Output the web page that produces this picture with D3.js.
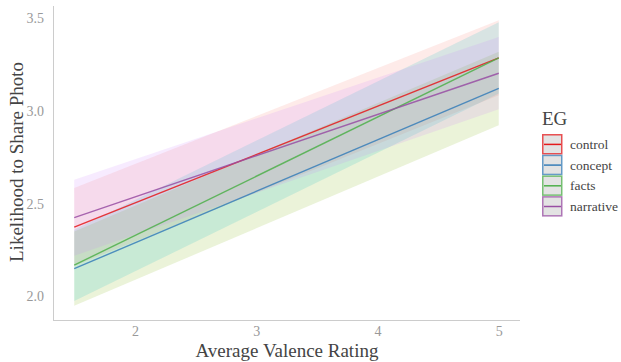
<!DOCTYPE html>
<html>
<head>
<meta charset="utf-8">
<script src="https://cdn.jsdelivr.net/npm/d3@7"></script>
<style>
  body { margin: 0; background: #fff; }
  svg text { font-family: "Liberation Serif", "DejaVu Serif", serif; }
</style>
</head>
<body>
<div id="chart"></div>
<script>
// groups and colours
const groups = ["control", "concept", "facts", "narrative"];
const lineColors = ["#E41A1C", "#377EB8", "#4DAF4A", "#984EA3"];
const fillColors = ["#F8766D", "#7CAE00", "#00BFC4", "#C77CFF"];

// predictions at the two ends of the valence range
const xs = [1.5, 5];
const fitControl = [2.374, 3.287], loControl = [2.165, 3.085], hiControl = [2.585, 3.49];
const fitConcept = [2.15, 3.123], loConcept = [1.95, 2.923], hiConcept = [2.35, 3.32];
const fitFacts = [2.169, 3.287], loFacts = [1.975, 3.095], hiFacts = [2.36, 3.48];
const fitNarrative = [2.425, 3.204], loNarrative = [2.22, 3.01], hiNarrative = [2.63, 3.40];

const xTicks = [2, 3, 4, 5];
const yTicks = [2.0, 2.5, 3.0, 3.5];

const series = [
    {fit: fitControl, lo: loControl, hi: hiControl},
    {fit: fitConcept, lo: loConcept, hi: hiConcept},
    {fit: fitFacts, lo: loFacts, hi: hiFacts},
    {fit: fitNarrative, lo: loNarrative, hi: hiNarrative}
].map((s, i) => ({
    name: groups[i],
    pts: xs.map((x, j) => ({x: x, fit: s.fit[j], lo: s.lo[j], hi: s.hi[j]}))
}));

const width = 621, height = 362;
const mLeft = 53, mRight = 520, mTop = 6, mBottom = 320;
const serif = "'Liberation Serif', 'DejaVu Serif', serif";

const svg = d3.select("#chart")
    .append("svg")
    .attr("width", width)
    .attr("height", height);

const x = d3.scaleLinear().domain([1.325, 5.175]).range([mLeft, mRight]);
const y = d3.scaleLinear().domain([1.873, 3.567]).range([mBottom, mTop]);

// ribbons first
const area = d3.area()
    .x(d => x(d.x))
    .y0(d => y(d.lo))
    .y1(d => y(d.hi));

svg.selectAll(".band")
    .data(series)
    .enter().append("path")
    .attr("class", "band")
    .attr("d", d => area(d.pts))
    .attr("fill", (d, i) => fillColors[i])
    .attr("fill-opacity", 0.15);

const line = d3.line()
    .x(d => x(d.x))
    .y(d => y(d.fit));

svg.selectAll(".fit")
    .data(series)
    .enter().append("path")
    .attr("class", "fit")
    .attr("d", d => line(d.pts))
    .attr("fill", "none")
    .attr("stroke", (d, i) => lineColors[i])
    .attr("stroke-opacity", 0.85)
    .attr("stroke-width", 1.4);

// axes, no tick marks
const xAxis = svg.append("g")
    .attr("transform", `translate(0,${mBottom})`)
    .call(d3.axisBottom(x).tickValues(xTicks).tickFormat(d3.format("d")).tickSize(0).tickPadding(6));
const yAxis = svg.append("g")
    .attr("transform", `translate(${mLeft},0)`)
    .call(d3.axisLeft(y).tickValues(yTicks).tickFormat(d3.format(".1f")).tickSize(0).tickPadding(9));

xAxis.attr("font-family", null).attr("font-size", null);
yAxis.attr("font-family", null).attr("font-size", null);
xAxis.select(".domain").attr("d", `M${mLeft},0.5H${mRight}`);
yAxis.select(".domain").attr("d", `M0.5,${mTop}V${mBottom}`);
svg.selectAll(".domain").attr("stroke", "#cccccc");
svg.selectAll(".tick text")
    .attr("fill", "#999999")
    .style("font-family", serif)
    .style("font-size", "14px");

svg.append("text")
    .attr("x", 287)
    .attr("y", 357)
    .attr("text-anchor", "middle")
    .attr("fill", "#444")
    .style("font-size", "19px")
    .text("Average Valence Rating");

svg.append("text")
    .attr("transform", `translate(23,162) rotate(-90)`)
    .attr("text-anchor", "middle")
    .attr("fill", "#444")
    .style("font-size", "19px")
    .text("Likelihood to Share Photo");

// legend
const legend = svg.append("g").attr("transform", "translate(542,134)");
legend.append("text")
    .attr("x", 0)
    .attr("y", -9)
    .attr("fill", "#444")
    .style("font-size", "19px")
    .text("EG");

const keys = legend.selectAll(".key")
    .data(groups)
    .enter().append("g")
    .attr("class", "key")
    .attr("transform", (d, i) => `translate(0,${i * 20.7})`);

keys.append("rect")
    .attr("x", 0.75).attr("y", 0.75)
    .attr("width", 19).attr("height", 19)
    .attr("fill", "#e3e3e3")
    .attr("stroke", (d, i) => lineColors[i])
    .attr("stroke-opacity", 0.75)
    .attr("stroke-width", 1.5);

keys.append("line")
    .attr("x1", 2).attr("x2", 19)
    .attr("y1", 10.4).attr("y2", 10.4)
    .attr("stroke", (d, i) => lineColors[i])
    .attr("stroke-width", 1.5);

keys.append("text")
    .attr("x", 28)
    .attr("y", 15)
    .attr("fill", "#444")
    .style("font-family", serif)
    .style("font-size", "13.5px")
    .text(d => d);
</script>
</body>
</html>
